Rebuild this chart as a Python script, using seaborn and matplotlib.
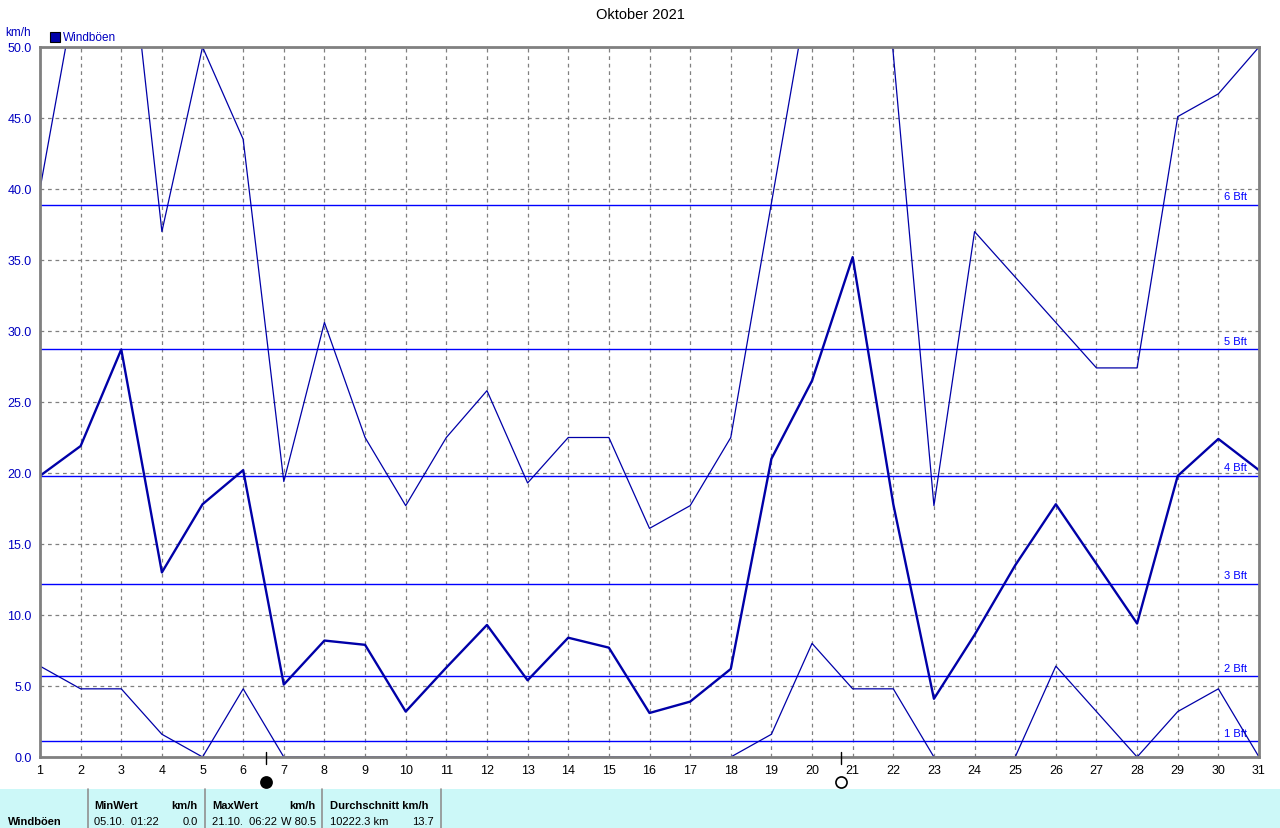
import matplotlib
matplotlib.use("Agg")
import matplotlib.pyplot as plt
import matplotlib.transforms as mtransforms
import pandas as pd
import seaborn as sns

days = list(range(1, 32))

gust_max = [40.0, 55.8, 63.0, 37.0, 50.0, 43.5, 19.4, 30.6, 22.5, 17.7,
            22.5, 25.8, 19.3, 22.5, 22.5, 16.1, 17.7, 22.5, 39.0, 55.4,
            80.5, 49.5, 17.7, 37.0, 33.8, 30.6, 27.4, 27.4, 45.1, 46.7, 50.0]

gust_mean = [19.8, 21.9, 28.7, 13.0, 17.8, 20.2, 5.1, 8.2, 7.9, 3.2,
             6.3, 9.3, 5.4, 8.4, 7.7, 3.1, 3.9, 6.2, 21.0, 26.5,
             35.2, 17.8, 4.1, 8.6, 13.5, 17.8, 13.6, 9.4, 19.8, 22.4, 20.2]

gust_min = [6.4, 4.8, 4.8, 1.6, 0.0, 4.8, 0.0, 0.0, 0.0, 0.0,
            0.0, 0.0, 0.0, 0.0, 0.0, 0.0, 0.0, 0.0, 1.6, 8.0,
            4.8, 4.8, 0.0, 0.0, 0.0, 6.4, 3.2, 0.0, 3.2, 4.8, 0.0]

bft_labels = ["1 Bft", "2 Bft", "3 Bft", "4 Bft", "5 Bft", "6 Bft"]
bft_values = [1.1, 5.7, 12.2, 19.8, 28.7, 38.9]

# moon phases: position on day axis, filled = new moon
moon_pos = [6.56, 20.71]
moon_filled = [True, False]

table_head = ["MinWert", "km/h", "MaxWert", "km/h", "Durchschnitt km/h"]
table_vals = ["05.10.  01:22", "0.0", "21.10.  06:22", "W 80.5", "10222.3 km", "13.7"]

df = pd.DataFrame({"day": days, "max": gust_max, "mean": gust_mean, "min": gust_min})

sns.set_style("white")
plt.rcParams['font.family'] = ["Liberation Sans", "DejaVu Sans"]
plt.rcParams['font.size'] = 8
plt.rcParams['text.color'] = "black"
plt.rcParams['xtick.color'] = "black"
plt.rcParams['ytick.color'] = "black"

fig = plt.figure(figsize=(12.8, 8.29), dpi=100)
ax = fig.add_axes([40 / 1280, 1 - 758 / 829, (1259 - 40) / 1280, (758 - 48) / 829])

line_col = "#0000A8"
bft_col = "#0000FF"
blue_txt = "#0000C0"

for y, lab in zip(bft_values, bft_labels):
    ax.axhline(y, color=bft_col, lw=1.0, zorder=2)
    ax.text(0.99, y + 0.25, lab, color=bft_col, fontsize=8, ha="right", va="bottom",
            transform=mtransforms.blended_transform_factory(ax.transAxes, ax.transData))

sns.lineplot(data=df, x="day", y="max", ax=ax, color=line_col, lw=0.9, zorder=3)
sns.lineplot(data=df, x="day", y="mean", ax=ax, color=line_col, lw=1.7, zorder=4)
sns.lineplot(data=df, x="day", y="min", ax=ax, color=line_col, lw=0.9, zorder=3)

ax.set_xlim(1, 31)
ax.set_ylim(0, 50)
ax.set_xticks(days)
ax.set_xticklabels([str(d) for d in days], fontsize=9)
ax.set_yticks([i * 5 for i in range(11)])
ax.set_yticklabels(["%.1f" % (i * 5) for i in range(11)], color=blue_txt, fontsize=9)
ax.tick_params(axis="y", direction="out", length=4, width=1, color="#606060", pad=2)
ax.tick_params(axis="x", direction="out", length=0, pad=5)
ax.grid(True, ls=(0, (3, 3)), color="#808080", lw=0.9)
ax.set_xlabel("")
ax.set_ylabel("")
for s in ax.spines.values():
    s.set_color("#808080")
    s.set_linewidth(2)
    s.set_zorder(6)

# moon markers below the axis
for mp, filled in zip(moon_pos, moon_filled):
    ax.plot([mp, mp], [0.35, -0.5], color="black", lw=1, clip_on=False, zorder=7)
    ax.plot(mp, -1.75, marker="o", ms=8, mec="black", mew=1.2,
            mfc="black" if filled else "white", clip_on=False, zorder=7)

fig.text(0.5, 1 - 15 / 829, "Oktober 2021", ha="center", va="center", fontsize=10.5)
fig.text(5 / 1280, 1 - 33 / 829, "km/h", color=blue_txt, fontsize=8.5, va="center")
fig.patches.append(plt.Rectangle((50 / 1280, 1 - 43 / 829), 10 / 1280, 10 / 829,
                                 transform=fig.transFigure, fc=line_col, ec="black", lw=0.8))
fig.text(63 / 1280, 1 - 38 / 829, "Windböen", color=blue_txt, fontsize=8.5, va="center")

# stats band at the bottom
fig.patches.append(plt.Rectangle((0, 0), 1, 39 / 829, transform=fig.transFigure,
                                 fc="#CCF8F8", ec="none", zorder=0))
for xs in [88, 205, 322, 441]:
    fig.add_artist(plt.Line2D([xs / 1280, xs / 1280], [0, 39 / 829], color="#909090", lw=1.2))

r1 = 1 - 806 / 829
r2 = 1 - 822 / 829
fs = 8
fig.text(8 / 1280, r2, "Windböen", fontsize=fs, weight="bold", va="center")
fig.text(94 / 1280, r1, table_head[0], fontsize=fs, weight="bold", va="center")
fig.text(198 / 1280, r1, table_head[1], fontsize=fs, weight="bold", va="center", ha="right")
fig.text(212 / 1280, r1, table_head[2], fontsize=fs, weight="bold", va="center")
fig.text(316 / 1280, r1, table_head[3], fontsize=fs, weight="bold", va="center", ha="right")
fig.text(330 / 1280, r1, table_head[4], fontsize=fs, weight="bold", va="center")
fig.text(94 / 1280, r2, table_vals[0], fontsize=fs, va="center")
fig.text(198 / 1280, r2, table_vals[1], fontsize=fs, va="center", ha="right")
fig.text(212 / 1280, r2, table_vals[2], fontsize=fs, va="center")
fig.text(316 / 1280, r2, table_vals[3], fontsize=fs, va="center", ha="right")
fig.text(330 / 1280, r2, table_vals[4], fontsize=fs, va="center")
fig.text(434 / 1280, r2, table_vals[5], fontsize=fs, va="center", ha="right")

fig.savefig("out.png", dpi=100)
